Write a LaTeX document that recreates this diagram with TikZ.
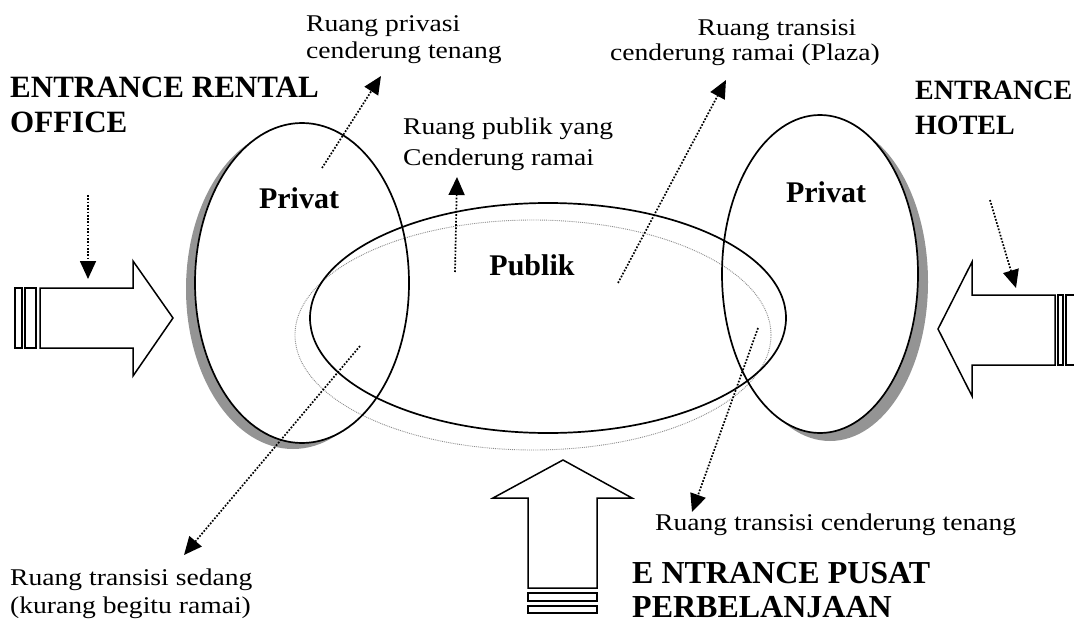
\documentclass[tikz,border=0pt]{standalone}
\usepackage{fontspec}
\setmainfont{Liberation Serif}
\usepackage{graphicx}
\usetikzlibrary{arrows.meta}
\newcommand{\rg}[1]{\scalebox{1.15}[1]{#1}}
\begin{document}
\begin{tikzpicture}[x=1pt,y=-1pt,
  reg/.style={inner sep=0pt, font=\fontsize{24}{28}\selectfont},
  bld/.style={inner sep=0pt, font=\fontsize{30}{34}\selectfont\bfseries},
  outline/.style={line width=1.7pt},
  ptr/.style={line width=1.7pt, dash pattern=on 1.7pt off 1.6pt, -{Triangle[length=18pt,width=16pt]}},
  block/.style={draw, line width=1.5pt, fill=white, line join=miter},
  stripe/.style={draw, line width=1.1pt, fill=white},
  shadow/.style={fill=black!42},
]
\useasboundingbox (0,0) rectangle (1074,623);

% shadows of the private ellipses
\fill[shadow] (293,289) ellipse [x radius=107, y radius=160];
\fill[shadow] (830,282) ellipse [x radius=98, y radius=159];
\fill[white] (302,283) ellipse [x radius=107, y radius=160];
\fill[white] (820,274) ellipse [x radius=98, y radius=159];

% public ellipses
\draw[black!45, line width=0.9pt, densely dotted] (533,335) ellipse [x radius=238, y radius=115];
\draw[outline] (548,318) ellipse [x radius=238, y radius=115];
% private ellipses
\draw[outline] (302,283) ellipse [x radius=107, y radius=160];
\draw[outline] (820,274) ellipse [x radius=98, y radius=159];

% block arrows
\draw[block] (40,288) -- (133,288) -- (133,261) -- (173,318) -- (133,376) -- (133,348) -- (40,348) -- cycle;
\draw[stripe] (15,288) rectangle (22,348);
\draw[stripe] (25,288) rectangle (36,348);

\draw[block] (1055,295) -- (972,295) -- (972,262) -- (938,329) -- (972,396) -- (972,365) -- (1055,365) -- cycle;
\draw[stripe] (1058,295) rectangle (1063,365);
\draw[stripe] (1066,295) rectangle (1075,365);

\draw[block] (528,588) -- (528,498) -- (493,498) -- (563,460) -- (632,498) -- (597,498) -- (597,588) -- cycle;
\draw[stripe] (528,593) rectangle (597,601);
\draw[stripe] (528,606) rectangle (597,613);

% texts
\node[reg, anchor=base west] (tpriv1) at (306,32) {\rg{Ruang privasi}};
\node[reg, anchor=base west] (tpriv2) at (306,59) {\rg{cenderung tenang}};
\node[bld, font=\fontsize{31}{34}\selectfont\bfseries, anchor=base west] (erent1) at (10,98) {ENTRANCE RENTAL};
\node[bld, font=\fontsize{31}{34}\selectfont\bfseries, anchor=base west] (erent2) at (10,133) {OFFICE};
\node[reg, anchor=base] (tplz1) at (777,36) {\rg{Ruang transisi}};
\node[reg, anchor=base] (tplz2) at (745,61) {\rg{cenderung ramai (Plaza)}};
\node[bld, font=\fontsize{28}{34}\selectfont\bfseries, anchor=base west] (ehot1) at (915,100) {ENTRANCE};
\node[bld, font=\fontsize{28}{34}\selectfont\bfseries, anchor=base west] (ehot2) at (915,135) {HOTEL};
\node[reg, anchor=base west] (tpub1) at (403,135) {\rg{Ruang publik yang}};
\node[reg, anchor=base west] (tpub2) at (403,166) {\rg{Cenderung ramai}};
\node[bld, anchor=base] (privL) at (299,208) {Privat};
\node[bld, anchor=base] (privR) at (826,203) {Privat};
\node[bld, anchor=base] (publik) at (532,275) {Publik};
\node[reg, anchor=base west] (ttenang) at (655,530) {\rg{Ruang transisi cenderung tenang}};
\node[reg, anchor=base west] (tsed1) at (10,585) {\rg{Ruang transisi sedang}};
\node[reg, anchor=base west] (tsed2) at (10,613) {\rg{(kurang begitu ramai)}};
\node[bld, font=\fontsize{32}{34}\selectfont\bfseries, anchor=base west] (epus1) at (632,583) {E NTRANCE PUSAT};
\node[bld, font=\fontsize{32}{34}\selectfont\bfseries, anchor=base west] (epus2) at (632,617) {PERBELANJAAN};

% dotted pointers
\coordinate (s1) at (88,195);   \coordinate (e1) at (88,279);
\coordinate (s2) at (322,168);  \coordinate (e2) at (381,76);
\coordinate (s3) at (455,272);  \coordinate (e3) at (457,177);
\coordinate (s4) at (618,283);  \coordinate (e4) at (726,80);
\coordinate (s5) at (758,328);  \coordinate (e5) at (692,512);
\coordinate (s6) at (360,346);  \coordinate (e6) at (184,555);
\coordinate (s7) at (990,200);  \coordinate (e7) at (1016,288);
\foreach \i in {1,...,7} \draw[ptr] (s\i) -- (e\i);
\end{tikzpicture}
\end{document}
